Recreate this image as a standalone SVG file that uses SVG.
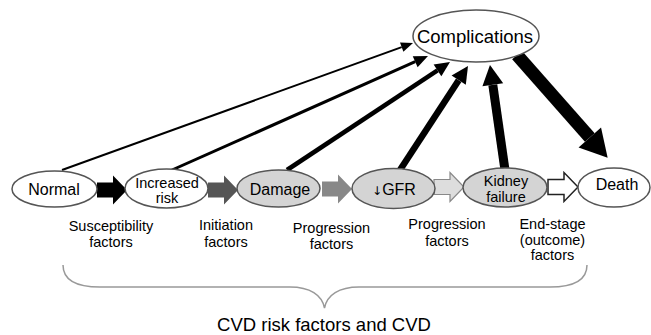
<svg xmlns="http://www.w3.org/2000/svg" width="651" height="335" viewBox="0 0 651 335">
<style>
text{font-family:"Liberation Sans",Arial,sans-serif;fill:#000;text-anchor:middle}
.node{font-size:16px}
.node2{font-size:14.5px}
.lab{font-size:14.5px}
.ell{stroke:#555;stroke-width:1.5}
.w{fill:#fff}
.g{fill:#d4d4d4}
.conn{stroke:#000;fill:none;stroke-linecap:butt}
</style>
<defs>
<marker id="h1" markerUnits="userSpaceOnUse" markerWidth="12" markerHeight="10" refX="0" refY="5" orient="auto" overflow="visible"><path d="M0,0 L12,5 L0,10 Z" fill="#000"/></marker>
<marker id="h2" markerUnits="userSpaceOnUse" markerWidth="14" markerHeight="12" refX="0" refY="6" orient="auto" overflow="visible"><path d="M0,0 L14,6 L0,12 Z" fill="#000"/></marker>
<marker id="h3" markerUnits="userSpaceOnUse" markerWidth="15" markerHeight="14" refX="0" refY="7" orient="auto" overflow="visible"><path d="M0,0 L15,7 L0,14 Z" fill="#000"/></marker>
<marker id="h4" markerUnits="userSpaceOnUse" markerWidth="17" markerHeight="17" refX="0" refY="8.5" orient="auto" overflow="visible"><path d="M0,0 L17,8.5 L0,17 Z" fill="#000"/></marker>
<marker id="h5" markerUnits="userSpaceOnUse" markerWidth="20" markerHeight="21" refX="0" refY="10.5" orient="auto" overflow="visible"><path d="M0,0 L20,10.5 L0,21 Z" fill="#000"/></marker>
<marker id="h6" markerUnits="userSpaceOnUse" markerWidth="27" markerHeight="30" refX="0" refY="15" orient="auto" overflow="visible"><path d="M0,0 L27,15 L0,30 Z" fill="#000"/></marker>
<path id="blk" d="M0,-7.5 H16 V-14.5 L30,0 L16,14.5 V7.5 H0 Z"/>
</defs>

<g id="connectors">
<line class="conn" x1="62" y1="170" x2="401.7" y2="47.1" stroke-width="2" marker-end="url(#h1)"/>
<line class="conn" x1="172" y1="170" x2="415.2" y2="61.7" stroke-width="3" marker-end="url(#h2)"/>
<line class="conn" x1="287" y1="170" x2="437.5" y2="70.3" stroke-width="4.5" marker-end="url(#h3)"/>
<line class="conn" x1="400" y1="170" x2="458.7" y2="80.2" stroke-width="6.5" marker-end="url(#h4)"/>
<line class="conn" x1="505" y1="170" x2="492.8" y2="84.8" stroke-width="9" marker-end="url(#h5)"/>
<line class="conn" x1="517" y1="55" x2="589.8" y2="137.5" stroke-width="13" marker-end="url(#h6)"/>
<use href="#blk" x="97" y="190" fill="#000"/>
<use href="#blk" x="208" y="190" fill="#555"/>
<use href="#blk" x="322" y="189" fill="#888"/>
<use href="#blk" x="434" y="187" fill="#ddd" stroke="#888" stroke-width="1.2"/>
<use href="#blk" x="548" y="187" fill="#fff" stroke="#222" stroke-width="1.5"/>
</g>

<g id="complications">
<ellipse class="ell w" cx="476" cy="36" rx="63" ry="26"/>
<text x="475" y="43" font-size="18.5px">Complications</text>
</g>
<g id="normal">
<ellipse class="ell w" cx="54.5" cy="189" rx="42.5" ry="18"/>
<text class="node" x="54" y="195">Normal</text>
</g>
<g id="increased-risk">
<ellipse class="ell w" cx="166.5" cy="188.5" rx="41.5" ry="19.5"/>
<text class="node2" x="167" y="187.5">Increased</text>
<text class="node2" x="167" y="203">risk</text>
</g>
<g id="damage">
<ellipse class="ell g" cx="278.5" cy="188.5" rx="41.5" ry="18.5"/>
<text class="node" x="280" y="194.5">Damage</text>
</g>
<g id="gfr">
<ellipse class="ell g" cx="393.5" cy="188.5" rx="41.5" ry="20"/>
<text class="node" x="394" y="195"><tspan font-family="'DejaVu Sans',sans-serif" font-size="12px">↓</tspan>GFR</text>
</g>
<g id="kidney-failure">
<ellipse class="ell g" cx="505" cy="187.5" rx="42" ry="19.5"/>
<text class="node2" x="506" y="186">Kidney</text>
<text class="node2" x="506" y="202">failure</text>
</g>
<g id="death">
<ellipse class="ell w" cx="614" cy="187.5" rx="36" ry="19.5"/>
<text class="node" x="617" y="190">Death</text>
</g>

<g id="labels">
<text class="lab" x="111" y="230.5">Susceptibility</text>
<text class="lab" x="111" y="246.5">factors</text>
<text class="lab" x="226" y="230">Initiation</text>
<text class="lab" x="226" y="246.5">factors</text>
<text class="lab" x="331.5" y="232.5">Progression</text>
<text class="lab" x="331.5" y="249">factors</text>
<text class="lab" x="447" y="229">Progression</text>
<text class="lab" x="447" y="245.5">factors</text>
<text class="lab" x="552.5" y="229">End-stage</text>
<text class="lab" x="552.5" y="244.5">(outcome)</text>
<text class="lab" x="552.5" y="260">factors</text>
</g>

<g id="brace">
<path d="M63,265 C63,280 75,287 100,287 L290,287 C310,287 322,295 324.5,308 C327,295 339,287 359,287 L550,287 C575,287 587,280 587,265" fill="none" stroke="#999" stroke-width="1.5"/>
<text x="324" y="331" font-size="18.5px">CVD risk factors and CVD</text>
</g>
</svg>
